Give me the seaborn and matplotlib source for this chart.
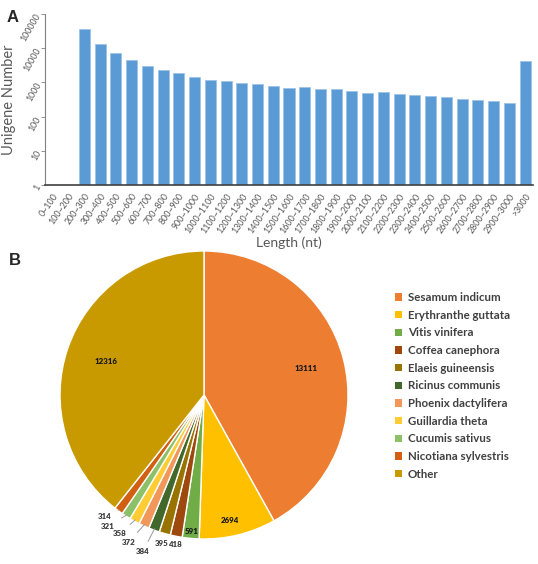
import numpy as np
import pandas as pd
import matplotlib
matplotlib.use("Agg")
import matplotlib.pyplot as plt
import seaborn as sns
from matplotlib.patches import Patch

# ---------------- data ----------------
length_bins = ["0~100", "100~200", "200~300", "300~400", "400~500", "500~600",
               "600~700", "700~800", "800~900", "900~1000", "1000~1100",
               "1100~1200", "1200~1300", "1300~1400", "1400~1500", "1500~1600",
               "1600~1700", "1700~1800", "1800~1900", "1900~2000", "2000~2100",
               "2100~2200", "2200~2300", "2300~2400", "2400~2500", "2500~2600",
               "2600~2700", "2700~2800", "2800~2900", "2900~3000", ">3000"]
unigene_counts = [0, 0, 36300, 13200, 7100, 4430, 3020, 2300, 1845, 1440, 1150,
                  1075, 960, 898, 770, 700, 718, 641, 655, 571, 500, 513, 467,
                  428, 390, 367, 334, 312, 292, 255, 4140]
y_ticks = [1, 10, 100, 1000, 10000, 100000]
y_tick_labels = ["1", "10", "100", "1000", "10000", "100000"]

species = ["Sesamum indicum", "Erythranthe guttata", "Vitis vinifera",
           "Coffea canephora", "Elaeis guineensis", "Ricinus communis",
           "Phoenix dactylifera", "Guillardia theta", "Cucumis sativus",
           "Nicotiana sylvestris", "Other"]
species_counts = [13111, 2694, 591, 418, 395, 384, 372, 358, 321, 314, 12316]
species_colors = ["#ED7D31", "#FFC000", "#70AD47", "#9E480E", "#997300",
                  "#43682B", "#F1975A", "#FFCD33", "#8CC168", "#D26012", "#C99A00"]

# ---------------- style ----------------
sns.set_theme(style="white")
plt.rcParams['font.family'] = ['Lato', 'DejaVu Sans']
grey_txt = "#595959"

W, H = 538, 564
fig = plt.figure(figsize=(W / 100, H / 100), dpi=100)

# ---------------- panel A ----------------
ax1 = fig.add_axes([45 / W, 1 - 185 / H, (533 - 45) / W, (185 - 14) / H])
df = pd.DataFrame({"bin": length_bins, "count": unigene_counts})
sns.barplot(data=df, x="bin", y="count", color="#5B9BD5", width=0.7,
            edgecolor="#9DC3E6", linewidth=0.6, saturation=1, ax=ax1)
ax1.set_yscale("log")
ax1.set_ylim(1, 100000)
ax1.set_xlim(-0.5, len(length_bins) - 0.5)
ax1.set_yticks(y_ticks)
ax1.set_yticklabels(y_tick_labels)
ax1.yaxis.set_minor_locator(matplotlib.ticker.NullLocator())
for lab in ax1.get_xticklabels():
    lab.set_rotation(55)
    lab.set_ha("right")
    lab.set_rotation_mode("anchor")
for lab in ax1.get_yticklabels():
    lab.set_rotation(60)
    lab.set_ha("right")
    lab.set_rotation_mode("anchor")
ax1.tick_params(axis="x", labelsize=6.4, colors=grey_txt, length=0, pad=5)
ax1.tick_params(axis="y", labelsize=6.3, colors=grey_txt, length=3, width=0.6,
                left=True, pad=2, direction="out")
ax1.tick_params(axis="y", color="#808080")
for s in ["top", "right"]:
    ax1.spines[s].set_visible(False)
ax1.spines["left"].set_color("#808080")
ax1.spines["left"].set_linewidth(0.8)
ax1.spines["bottom"].set_color("#404040")
ax1.spines["bottom"].set_linewidth(1.2)
ax1.set_xlabel("Length (nt)", fontsize=10, color=grey_txt, labelpad=1)
ax1.set_ylabel("Unigene Number", fontsize=10.5, color=grey_txt)
ax1.yaxis.set_label_coords(-0.06, 0.5)
ax1.grid(False)

fig.text(7 / W, 1 - 10 / H, "A", fontsize=12, fontweight="bold",
         family=["Liberation Sans", "DejaVu Sans"], va="top", ha="left")
fig.text(9 / W, 1 - 253 / H, "B", fontsize=12, fontweight="bold",
         family=["Liberation Sans", "DejaVu Sans"], va="top", ha="left")

# ---------------- panel B ----------------
R = 144
cx, cy = 204, 395
ax2 = fig.add_axes([(cx - R) / W, (H - cy - R) / H, 2 * R / W, 2 * R / H])
wedges, _ = ax2.pie(species_counts, colors=species_colors, startangle=90,
                    counterclock=False,
                    wedgeprops=dict(edgecolor="white", linewidth=1.0))
ax2.set_xlim(-1, 1)
ax2.set_ylim(-1, 1)
ax2.set_aspect("equal")

# label placement (radius in pie units, clockwise angular nudge in degrees)
label_r = [0.73, 0.89, 0.95, 1.06, 1.07, 1.17, 1.15, 1.13, 1.13, 1.09, 0.72]
label_da = [0, 2, 0, 0, 0, 1, 2.5, 2.5, 3.5, 3.0, 0]
leader = [False, False, False, False, False, True, True, True, True, True, False]
for w, val, r, da, ld in zip(wedges, species_counts, label_r, label_da, leader):
    mid0 = np.deg2rad((w.theta1 + w.theta2) / 2)
    mid = mid0 - np.deg2rad(da)
    tx, ty = r * np.cos(mid), r * np.sin(mid)
    fs = 5.7
    if ld:
        ax2.annotate(str(val), xy=(0.99 * np.cos(mid0), 0.99 * np.sin(mid0)),
                     xytext=(tx, ty), ha="center", va="center",
                     fontsize=fs, fontweight="heavy", color="#404040",
                     annotation_clip=False,
                     arrowprops=dict(arrowstyle="-", color="#999999", lw=0.7,
                                     shrinkA=3, shrinkB=0))
    else:
        ax2.text(tx, ty, str(val), ha="center", va="center", fontsize=fs,
                 fontweight="heavy", color="#1a1a1a" if r < 1 else "#404040",
                 clip_on=False)

handles = [Patch(facecolor=c, edgecolor="none") for c in species_colors]
leg = fig.legend(handles, species, loc="upper left",
                 bbox_to_anchor=(395 / W, 1 - 292 / H), frameon=False,
                 handlelength=0.6, handleheight=0.6, handletextpad=0.5,
                 labelspacing=0.58, borderaxespad=0, borderpad=0,
                 prop=dict(family=["Lato", "DejaVu Sans"], weight="bold", size=8.3))
for t in leg.get_texts():
    t.set_color("#404040")

fig.savefig("out.png", dpi=100)
